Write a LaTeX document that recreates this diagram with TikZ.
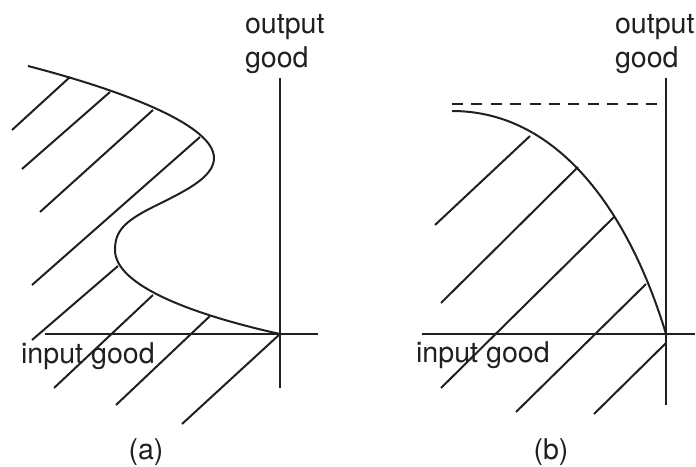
\documentclass[tikz,border=0pt]{standalone}
\usepackage{fontspec}
\setmainfont{TeX Gyre Heros}
\definecolor{ink}{rgb}{0.13,0.12,0.12}
\begin{document}
\begin{tikzpicture}[x=0.5pt,y=-0.5pt,
  every path/.style={draw=ink,line width=1pt},
  lbl/.style={inner sep=0pt,text=ink,font=\fontsize{14.3}{17}\selectfont},
  hatch/.style={line width=1pt},
  dashline/.style={dash pattern=on 5.5pt off 4.2pt}]
\useasboundingbox[draw=none] (0,0) rectangle (696,466);
% ---------- panel (a) ----------
\coordinate (oA) at (280,334);
\draw (280,78) -- (280,388);
\draw (45,334) -- (318,334);
\draw (28,66) .. controls (128,92) and (214,126) .. (214,158)
      .. controls (214,178) and (183,192) .. (153,207)
      .. controls (123,222) and (115,232) .. (115,250)
      .. controls (115,285) and (190,314) .. (oA);
\draw[hatch] (12,130) -- (70,77);
\draw[hatch] (22,169) -- (110,92);
\draw[hatch] (40,212) -- (153,110);
\draw[hatch] (32,285) -- (200,137);
\draw[hatch] (32,340) -- (118,266);
\draw[hatch] (54,388) -- (153,295);
\draw[hatch] (116,405) -- (210,316);
\draw[hatch] (182,424) -- (oA);
\node[lbl,anchor=base west] (outA) at (244,33) {output};
\node[lbl,anchor=base west] (goodA) at (244,67) {good};
\node[lbl,anchor=base west] (inA) at (20,363) {input good};
\node[lbl,anchor=base] (capA) at (146,459) {(a)};
% ---------- panel (b) ----------
\coordinate (oB) at (666,334);
\draw (666,78) -- (666,405);
\draw (422,334) -- (695,334);
\draw[dashline] (452,104) -- (657,104);
\draw (452,111) .. controls (560,111) and (630,215) .. (oB);
\draw[hatch] (435,225) -- (530,136);
\draw[hatch] (441,303) -- (578,167);
\draw[hatch] (441,388) -- (614,217);
\draw[hatch] (516,412) -- (646,284);
\draw[hatch] (594,414) -- (666,343);
\node[lbl,anchor=base west] (outB) at (614,33) {output};
\node[lbl,anchor=base west] (goodB) at (614,67) {good};
\node[lbl,anchor=base west] (inB) at (415,362) {input good};
\node[lbl,anchor=base] (capB) at (551,459) {(b)};
\end{tikzpicture}
\end{document}
